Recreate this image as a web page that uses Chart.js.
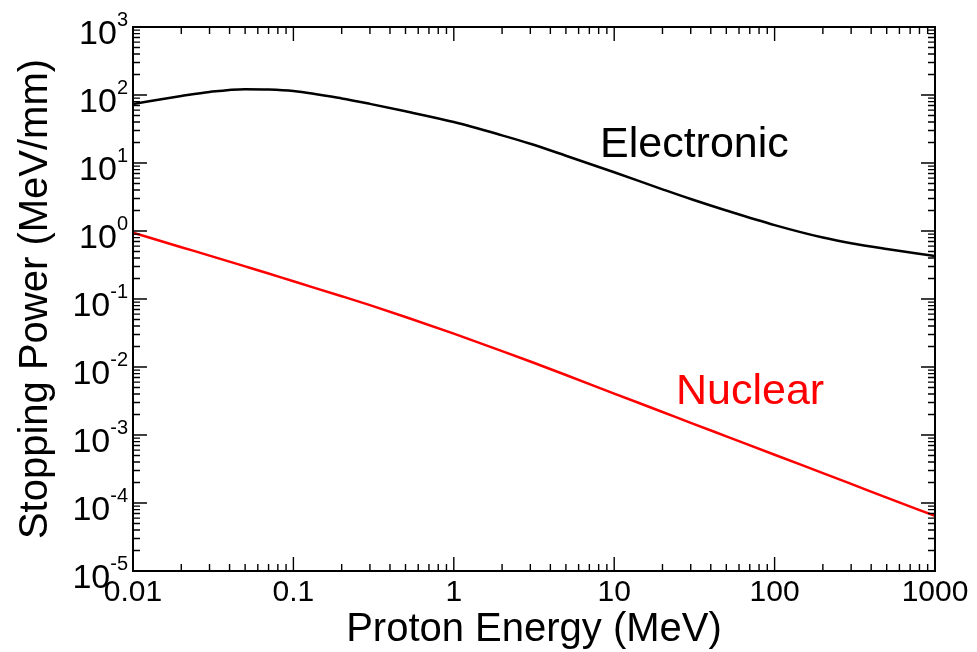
<!DOCTYPE html>
<html>
<head>
<meta charset="utf-8">
<script src="https://cdn.jsdelivr.net/npm/chart.js@4.4.1/dist/chart.umd.min.js"></script>
<style>
  body { margin: 0; background: #fff; }
  #wrap { width: 977px; height: 652px; }
</style>
</head>
<body>
<div id="wrap"><canvas id="stoppingChart"></canvas></div>
<script>
// proton energy (MeV)
const energy = [0.01, 0.02, 0.03, 0.05, 0.07, 0.1, 0.2, 0.3, 0.5, 1, 2, 3, 5, 10, 20, 30, 50, 100, 200, 300, 500, 1000];
// stopping power (MeV/mm)
const electronic = [74, 96.6, 111, 121.9, 120.7, 114.4, 89, 74, 57.5, 40, 25.5, 19.2, 12.8, 7.3, 4.1, 2.95, 2.0, 1.22, 0.8, 0.66, 0.543, 0.427];
const nuclear = [0.944, 0.578, 0.435, 0.302, 0.237, 0.182, 0.110, 0.0813, 0.0543, 0.0309, 0.01714, 0.01205, 0.00763, 0.00407, 0.00218, 0.00151, 0.000955, 0.000513, 0.000275, 0.000191, 0.00012, 0.0000646];

const xTickValues = [0.01, 0.1, 1, 10, 100, 1000];
const xTickLabels = ["0.01", "0.1", "1", "10", "100", "1000"];
const yExponents = [-5, -4, -3, -2, -1, 0, 1, 2, 3];

const FONT = '"Liberation Sans", Arial, Helvetica, sans-serif';

function toPoints(ys) {
    return energy.map((e, i) => ({ x: e, y: ys[i] }));
}

// frame, inward ticks on all four sides, labels and titles
const framePlugin = {
    id: "frame",
    afterDraw(chart) {
        const { ctx, chartArea: a, scales: { x, y } } = chart;
        ctx.save();

        ctx.strokeStyle = "#000";
        ctx.lineWidth = 1.4;
        ctx.beginPath();
        const tick = (px, major, horiz) => {
            const len = major ? 14 : 7;
            if (horiz) {
                ctx.moveTo(px, a.bottom); ctx.lineTo(px, a.bottom - len);
                ctx.moveTo(px, a.top); ctx.lineTo(px, a.top + len);
            } else {
                ctx.moveTo(a.left, px); ctx.lineTo(a.left + len, px);
                ctx.moveTo(a.right, px); ctx.lineTo(a.right - len, px);
            }
        };
        xTickValues.forEach((v, i) => {
            tick(x.getPixelForValue(v), true, true);
            if (i < xTickValues.length - 1) {
                for (let k = 2; k <= 9; k++) tick(x.getPixelForValue(k * v), false, true);
            }
        });
        yExponents.forEach((e, i) => {
            const v = Math.pow(10, e);
            tick(y.getPixelForValue(v), true, false);
            if (i < yExponents.length - 1) {
                for (let k = 2; k <= 9; k++) tick(y.getPixelForValue(k * v), false, false);
            }
        });
        ctx.stroke();

        ctx.lineWidth = 2;
        ctx.strokeRect(a.left, a.top, a.right - a.left, a.bottom - a.top);

        ctx.fillStyle = "#000";
        // x tick labels
        ctx.font = "30px " + FONT;
        ctx.textAlign = "center";
        ctx.textBaseline = "top";
        xTickValues.forEach((v, i) => {
            ctx.fillText(xTickLabels[i], x.getPixelForValue(v), a.bottom + 7);
        });

        // y tick labels as powers of ten
        ctx.textBaseline = "middle";
        yExponents.forEach(e => {
            const py = y.getPixelForValue(Math.pow(10, e));
            const sup = String(e);
            ctx.font = "20px " + FONT;
            const supW = ctx.measureText(sup).width;
            ctx.textAlign = "left";
            ctx.fillText(sup, a.left - 5 - supW, py - 7);
            ctx.font = "34px " + FONT;
            ctx.textAlign = "right";
            ctx.fillText("10", a.left - 5 - supW, py + 8);
        });

        // axis titles
        ctx.font = "40px " + FONT;
        ctx.textAlign = "center";
        ctx.textBaseline = "middle";
        ctx.fillText("Proton Energy (MeV)", (a.left + a.right) / 2, 630);
        ctx.save();
        ctx.translate(36, (a.top + a.bottom) / 2);
        ctx.rotate(-Math.PI / 2);
        ctx.fillText("Stopping Power (MeV/mm)", 0, 0);
        ctx.restore();

        // curve names
        ctx.font = "43px " + FONT;
        ctx.textAlign = "left";
        ctx.textBaseline = "alphabetic";
        ctx.fillText("Electronic", 600, 157);
        ctx.fillStyle = "#ff0000";
        ctx.fillText("Nuclear", 676, 404);

        ctx.restore();
    }
};

const chart = new Chart(document.getElementById("stoppingChart").getContext("2d"), {
    type: "line",
    data: {
        datasets: [
            {
                label: "Electronic",
                data: toPoints(electronic),
                borderColor: "#000000",
                borderWidth: 2.5,
                pointRadius: 0,
                cubicInterpolationMode: "monotone"
            },
            {
                label: "Nuclear",
                data: toPoints(nuclear),
                borderColor: "#ff0000",
                borderWidth: 2.5,
                pointRadius: 0,
                cubicInterpolationMode: "monotone"
            }
        ]
    },
    options: {
        responsive: true,
        maintainAspectRatio: false,
        animation: false,
        parsing: false,
        layout: {
            padding: { left: 133, right: 42, top: 27, bottom: 81 }
        },
        plugins: {
            legend: { display: false },
            tooltip: { enabled: false }
        },
        scales: {
            x: { type: "logarithmic", min: 0.01, max: 1000, display: false },
            y: { type: "logarithmic", min: 1e-5, max: 1e3, display: false }
        }
    },
    plugins: [framePlugin]
});
</script>
</body>
</html>
